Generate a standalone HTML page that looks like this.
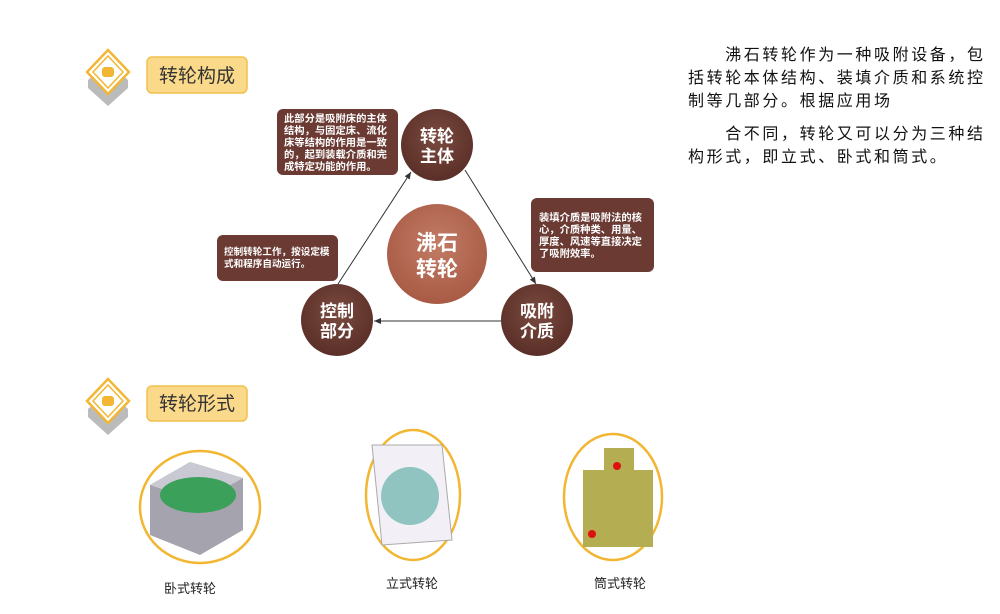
<!DOCTYPE html>
<html><head><meta charset="utf-8"><style>
body{margin:0;width:1000px;height:614px;background:#fff;overflow:hidden;position:relative;font-family:"Liberation Sans","Noto Sans CJK SC",sans-serif}
.p{position:absolute;left:688px;width:310px;font-size:16px;letter-spacing:2.6px;line-height:23px;color:#111}
</style></head><body>
<svg width="1000" height="614" style="position:absolute;left:0;top:0" font-family="Liberation Sans, Noto Sans CJK SC, sans-serif">
<defs>
<radialGradient id="g1" cx="50%" cy="40%" r="60%"><stop offset="0" stop-color="#c27c66"/><stop offset="1" stop-color="#a85a44"/></radialGradient>
<radialGradient id="g2" cx="50%" cy="40%" r="60%"><stop offset="0" stop-color="#7a4a40"/><stop offset="1" stop-color="#5a2f27"/></radialGradient>
<marker id="ar" markerWidth="8" markerHeight="8" refX="7" refY="4" orient="auto"><path d="M0,1 L7,4 L0,7 Z" fill="#333"/></marker>
</defs>
<g id="ic">
<path d="M108,62 L128,80 L128,88 L108,106 L88,88 L88,80 Z" fill="#bbb"/>
<path d="M108,50 L129,72 L108,94 L87,72 Z" fill="#fff" stroke="#f2b632" stroke-width="2.5"/>
<path d="M108,56 L123,72 L108,88 L93,72 Z" fill="#fff" stroke="#f2b632" stroke-width="1.5"/>
<rect x="102" y="67" width="12" height="10" rx="3" fill="#f2b632"/>
</g>
<use href="#ic" y="329"/>
<rect x="147" y="57" width="100" height="36" rx="5" fill="#fbd98a" stroke="#f2c14e" stroke-width="1.5"/>
<text x="197" y="82" font-size="19" text-anchor="middle" fill="#333">转轮构成</text>
<rect x="147" y="386" width="100" height="35" rx="5" fill="#fbd98a" stroke="#f2c14e" stroke-width="1.5"/>
<text x="197" y="410" font-size="19" text-anchor="middle" fill="#333">转轮形式</text>
<line x1="338" y1="284" x2="411" y2="172" stroke="#333" stroke-width="1" marker-end="url(#ar)"/>
<line x1="465" y1="170" x2="536" y2="284" stroke="#333" stroke-width="1" marker-end="url(#ar)"/>
<line x1="501" y1="321" x2="374" y2="321" stroke="#333" stroke-width="1" marker-end="url(#ar)"/>
<rect x="277" y="109" width="121" height="66" rx="6" fill="#6a3a33"/>
<g font-size="10.3" fill="#fff" font-weight="bold">
<text x="284" y="122">此部分是吸附床的主体</text>
<text x="284" y="134">结构，与固定床、流化</text>
<text x="284" y="146">床等结构的作用是一致</text>
<text x="284" y="158">的，起到装载介质和完</text>
<text x="284" y="170">成特定功能的作用。</text>
</g>
<rect x="531" y="198" width="123" height="74" rx="6" fill="#6a3a33"/>
<g font-size="10.3" fill="#fff" font-weight="bold">
<text x="539" y="221">装填介质是吸附法的核</text>
<text x="539" y="233">心，介质种类、用量、</text>
<text x="539" y="245">厚度、风速等直接决定</text>
<text x="539" y="257">了吸附效率。</text>
</g>
<rect x="217" y="235" width="121" height="46" rx="6" fill="#6a3a33"/>
<g font-size="9.6" fill="#fff" font-weight="bold">
<text x="224" y="255">控制转轮工作，按设定模</text>
<text x="224" y="267">式和程序自动运行。</text>
</g>
<circle cx="437" cy="254" r="50" fill="url(#g1)"/>
<g font-size="21" fill="#fff" text-anchor="middle" font-weight="bold">
<text x="437" y="250">沸石</text><text x="437" y="276">转轮</text></g>
<g font-size="17" fill="#fff" text-anchor="middle" font-weight="bold">
<circle cx="437" cy="145" r="36" fill="url(#g2)"/>
<text x="437" y="142">转轮</text><text x="437" y="162">主体</text>
<circle cx="337" cy="320" r="36" fill="url(#g2)"/>
<text x="337" y="317">控制</text><text x="337" y="337">部分</text>
<circle cx="537" cy="320" r="36" fill="url(#g2)"/>
<text x="537" y="317">吸附</text><text x="537" y="337">介质</text>
</g>
<ellipse cx="200" cy="507" rx="60" ry="56" fill="#fff" stroke="#f2b632" stroke-width="2.5"/>
<path d="M150,485 L190,462 L243,478 L243,530 L200,555 L150,535 Z" fill="#8f8c9a" opacity=".8"/>
<path d="M150,485 L190,462 L243,478 L200,502 Z" fill="#c9c9d3"/>
<ellipse cx="198" cy="495" rx="38" ry="18" fill="#3aa05a"/>
<ellipse cx="413" cy="495" rx="47" ry="65" fill="#fff" stroke="#f2b632" stroke-width="2.5"/>
<path d="M372,445 L442,445 L452,540 L382,545 Z" fill="#f2f0f6" stroke="#aaa"/>
<circle cx="410" cy="496" r="29" fill="#8fc4c0"/>
<ellipse cx="613" cy="497" rx="49" ry="63" fill="#fff" stroke="#f2b632" stroke-width="2.5"/>
<rect x="604" y="448" width="30" height="26" fill="#b4ad52"/>
<rect x="583" y="470" width="70" height="77" fill="#b4ad52"/>
<circle cx="617" cy="466" r="4" fill="#d11"/><circle cx="592" cy="534" r="4" fill="#d11"/>
<g font-size="13" fill="#222" text-anchor="middle">
<text x="190" y="593">卧式转轮</text>
<text x="412" y="588">立式转轮</text>
<text x="620" y="588">筒式转轮</text>
</g>
</svg>
<div class="p" style="top:44px">　　沸石转轮作为一种吸附设备，包括转轮本体结构、装填介质和系统控制等几部分。根据应用场</div>
<div class="p" style="top:123px">　　合不同，转轮又可以分为三种结构形式，即立式、卧式和筒式。</div>
</body></html>
